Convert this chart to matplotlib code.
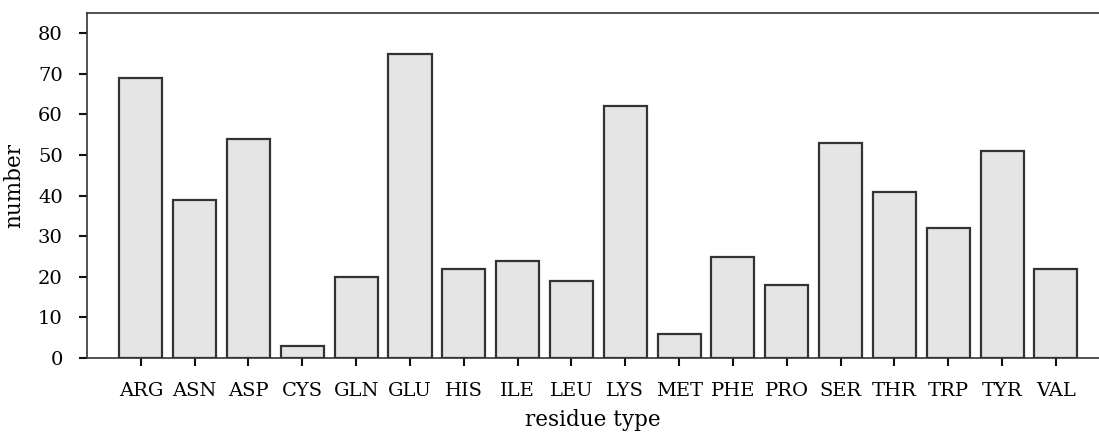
import matplotlib
matplotlib.use("Agg")
from matplotlib import pyplot as plt

residues = ["ARG", "ASN", "ASP", "CYS", "GLN", "GLU", "HIS", "ILE", "LEU",
            "LYS", "MET", "PHE", "PRO", "SER", "THR", "TRP", "TYR", "VAL"]
counts = [69, 39, 54, 3, 20, 75, 22, 24, 19, 62, 6, 25, 18, 53, 41, 32, 51, 22]

plt.rcParams["font.family"] = "DejaVu Serif"
plt.rcParams["font.size"] = 14

fig = plt.figure(figsize=(10.99, 4.32), dpi=100)
ax = fig.add_axes([87 / 1099, 1 - 358 / 432, 1 - 87 / 1099, 345 / 432])

x = range(len(residues))
ax.bar(x, counts, width=0.8, color="#e5e5e5", edgecolor="#333333", linewidth=1.6)

ax.set_xlim(-1, 17.8)
ax.set_ylim(0, 85)
ax.set_xticks(list(x))
ax.set_xticklabels(residues)
ax.set_yticks(range(0, 81, 10))
ax.set_xlabel("residue type", fontsize=15.5, labelpad=6)
ax.set_ylabel("number", fontsize=15.5, labelpad=9)

ax.spines["right"].set_visible(False)
for s in ["left", "bottom", "top"]:
    ax.spines[s].set_color("#333333")
    ax.spines[s].set_linewidth(1.2)
ax.tick_params(direction="out", length=6, width=1.5, color="#111111", pad=11.5)

fig.savefig("out.png", dpi=100)
